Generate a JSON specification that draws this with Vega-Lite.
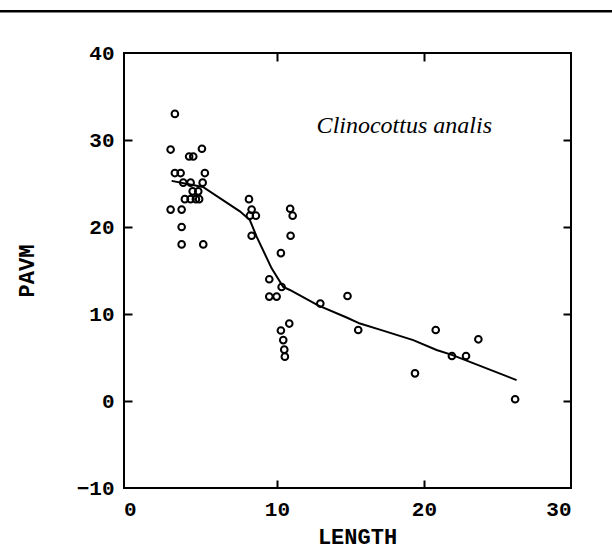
{
  "$schema": "https://vega.github.io/schema/vega-lite/v6.json",
  "width": 447,
  "height": 435,
  "autosize": "none",
  "padding": {"left": 124, "top": 53, "right": 41, "bottom": 65},
  "background": "white",
  "config": {
    "view": {"stroke": "black", "strokeWidth": 2},
    "axis": {
      "grid": false,
      "domain": false,
      "tickColor": "black",
      "tickWidth": 2,
      "tickSize": -8,
      "labelColor": "black",
      "labelFont": "Liberation Mono",
      "labelFontWeight": "bold",
      "labelFontSize": 21,
      "titleColor": "black",
      "titleFont": "Liberation Mono",
      "titleFontWeight": "bold",
      "titleFontSize": 22
    }
  },
  "datasets": {
    "pts": [
      {"LENGTH": 3.06, "PAVM": 33.0},
      {"LENGTH": 2.77, "PAVM": 28.9},
      {"LENGTH": 4.9, "PAVM": 29.0},
      {"LENGTH": 4.03, "PAVM": 28.1},
      {"LENGTH": 4.31, "PAVM": 28.1},
      {"LENGTH": 3.06, "PAVM": 26.2},
      {"LENGTH": 3.45, "PAVM": 26.2},
      {"LENGTH": 5.1, "PAVM": 26.2},
      {"LENGTH": 3.63, "PAVM": 25.1},
      {"LENGTH": 4.13, "PAVM": 25.1},
      {"LENGTH": 4.95, "PAVM": 25.1},
      {"LENGTH": 4.27, "PAVM": 24.1},
      {"LENGTH": 4.65, "PAVM": 24.1},
      {"LENGTH": 3.74, "PAVM": 23.2},
      {"LENGTH": 4.13, "PAVM": 23.2},
      {"LENGTH": 4.49, "PAVM": 23.2},
      {"LENGTH": 4.71, "PAVM": 23.2},
      {"LENGTH": 2.77, "PAVM": 22.0},
      {"LENGTH": 3.52, "PAVM": 22.0},
      {"LENGTH": 3.52, "PAVM": 20.0},
      {"LENGTH": 3.52, "PAVM": 18.0},
      {"LENGTH": 4.99, "PAVM": 18.0},
      {"LENGTH": 8.1, "PAVM": 23.2},
      {"LENGTH": 8.28, "PAVM": 22.0},
      {"LENGTH": 8.16, "PAVM": 21.3},
      {"LENGTH": 8.57, "PAVM": 21.3},
      {"LENGTH": 8.28, "PAVM": 19.0},
      {"LENGTH": 10.9, "PAVM": 22.1},
      {"LENGTH": 11.07, "PAVM": 21.3},
      {"LENGTH": 10.93, "PAVM": 19.0},
      {"LENGTH": 10.27, "PAVM": 17.0},
      {"LENGTH": 9.48, "PAVM": 14.0},
      {"LENGTH": 10.32, "PAVM": 13.1},
      {"LENGTH": 9.48, "PAVM": 12.0},
      {"LENGTH": 9.98, "PAVM": 12.0},
      {"LENGTH": 10.84, "PAVM": 8.9},
      {"LENGTH": 10.27, "PAVM": 8.1},
      {"LENGTH": 10.43, "PAVM": 7.0},
      {"LENGTH": 10.5, "PAVM": 5.9},
      {"LENGTH": 10.54, "PAVM": 5.1},
      {"LENGTH": 12.95, "PAVM": 11.2},
      {"LENGTH": 14.8, "PAVM": 12.07},
      {"LENGTH": 15.53, "PAVM": 8.16},
      {"LENGTH": 19.39, "PAVM": 3.18},
      {"LENGTH": 20.8, "PAVM": 8.16},
      {"LENGTH": 21.9, "PAVM": 5.17},
      {"LENGTH": 22.86, "PAVM": 5.17},
      {"LENGTH": 23.7, "PAVM": 7.09},
      {"LENGTH": 26.2, "PAVM": 0.2}
    ],
    "fit": [
      {"LENGTH": 2.84, "PAVM": 25.3},
      {"LENGTH": 4.97, "PAVM": 24.6},
      {"LENGTH": 7.48, "PAVM": 21.8},
      {"LENGTH": 8.16, "PAVM": 20.8},
      {"LENGTH": 8.62, "PAVM": 18.9},
      {"LENGTH": 9.64, "PAVM": 15.25},
      {"LENGTH": 10.43, "PAVM": 13.1},
      {"LENGTH": 10.88, "PAVM": 12.76},
      {"LENGTH": 12.8, "PAVM": 11.0},
      {"LENGTH": 14.74, "PAVM": 9.6},
      {"LENGTH": 15.65, "PAVM": 8.9},
      {"LENGTH": 17.0, "PAVM": 8.2},
      {"LENGTH": 19.27, "PAVM": 7.0},
      {"LENGTH": 20.86, "PAVM": 5.86},
      {"LENGTH": 21.9, "PAVM": 5.3},
      {"LENGTH": 26.3, "PAVM": 2.4}
    ]
  },
  "resolve": {"axis": {"x": "independent", "y": "independent"}},
  "layer": [
    {
      "data": {"name": "pts"},
      "mark": {"type": "point", "shape": "circle", "filled": false, "stroke": "black", "strokeWidth": 2, "size": 44, "opacity": 1},
      "encoding": {
        "x": {"field": "LENGTH", "type": "quantitative",
              "scale": {"domain": [-0.4, 30], "nice": false, "zero": false},
              "axis": {"orient": "bottom", "values": [0, 10, 20, 30], "title": "LENGTH", "labelPadding": 18, "titlePadding": 7, "titleX": 233,
                       "tickOpacity": {"condition": {"test": "datum.value == 0 || datum.value == 30", "value": 0}, "value": 1}}},
        "y": {"field": "PAVM", "type": "quantitative",
              "scale": {"domain": [-10, 40], "nice": false, "zero": false},
              "axis": {"orient": "left", "values": [-10, 0, 10, 20, 30, 40], "title": "PAVM", "labelPadding": 18, "titlePadding": 38,
                       "tickOpacity": {"condition": {"test": "datum.value == -10 || datum.value == 40", "value": 0}, "value": 1}}}
      }
    },
    {
      "data": {"name": "fit"},
      "mark": {"type": "line", "color": "black", "strokeWidth": 2},
      "encoding": {
        "x": {"field": "LENGTH", "type": "quantitative",
              "axis": {"orient": "top", "values": [10, 20], "labels": false, "title": null}},
        "y": {"field": "PAVM", "type": "quantitative",
              "axis": {"orient": "right", "values": [0, 10, 20, 30], "labels": false, "title": null}}
      }
    },
    {
      "data": {"values": [{}]},
      "mark": {"type": "text", "text": "Clinocottus analis", "font": "Liberation Serif", "fontStyle": "italic", "fontSize": 24, "align": "left", "baseline": "alphabetic", "color": "black"},
      "encoding": {
        "x": {"datum": 12.7, "type": "quantitative", "axis": null},
        "y": {"datum": 30.8, "type": "quantitative", "axis": null}
      }
    },
    {
      "data": {"values": [{}]},
      "mark": {"type": "rule", "color": "black", "strokeWidth": 2.5, "clip": false},
      "encoding": {
        "x": {"datum": -9.4, "type": "quantitative", "axis": null},
        "x2": {"datum": 32.9},
        "y": {"datum": 44.8, "type": "quantitative", "axis": null}
      }
    }
  ]
}
